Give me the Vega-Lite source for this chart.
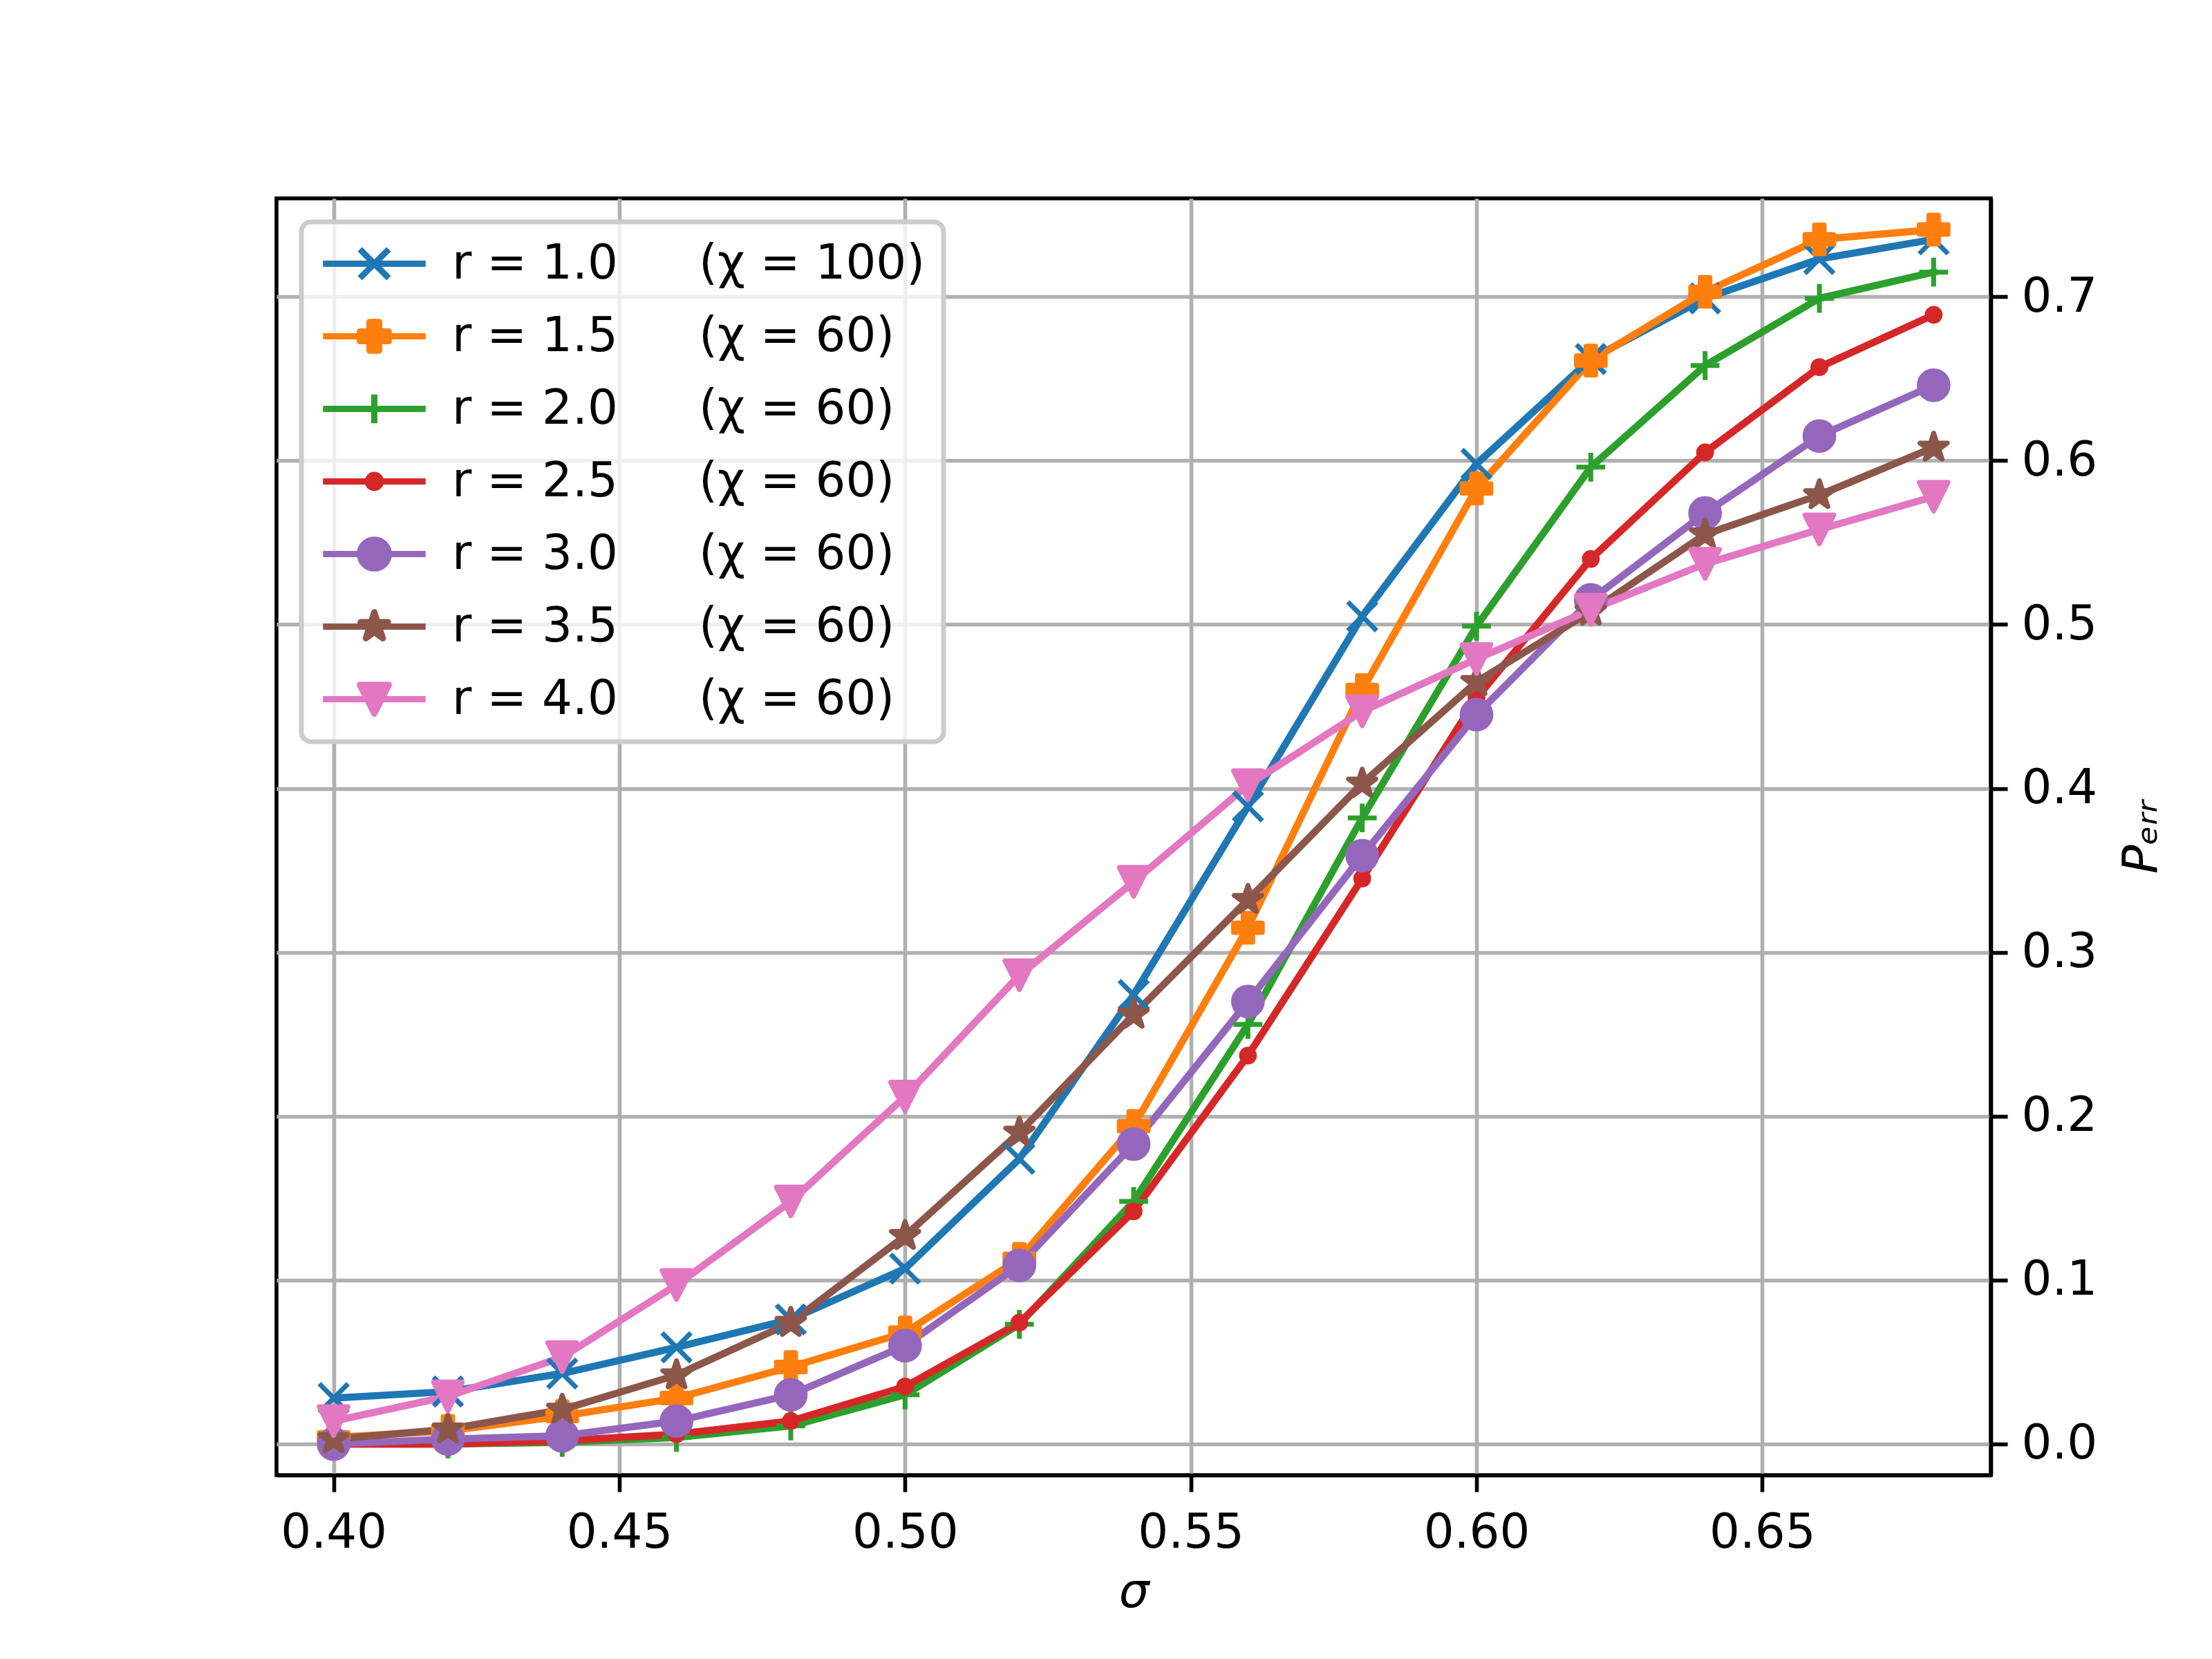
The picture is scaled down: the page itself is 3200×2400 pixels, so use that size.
{
  "$schema": "https://vega.github.io/schema/vega-lite/v6.json",
  "description": "Error probability versus sigma for several r values.",
  "width": 2480,
  "height": 1847,
  "autosize": {"type": "none"},
  "padding": {"left": 400, "top": 287, "right": 320, "bottom": 266},
  "background": "white",
  "config": {
    "view": {"stroke": "black", "strokeWidth": 5.6, "fill": "white"},
    "font": "DejaVu Sans",
    "axis": {
      "labelFont": "DejaVu Sans",
      "labelFontSize": 69,
      "labelColor": "black",
      "tickColor": "black",
      "tickWidth": 5.6,
      "tickSize": 24,
      "domainColor": "black",
      "domainWidth": 5.6,
      "gridColor": "#b0b0b0",
      "gridWidth": 5.6,
      "gridOpacity": 1,
      "titleFont": "DejaVu Sans",
      "titleFontSize": 69,
      "titleFontWeight": "normal",
      "titleFontStyle": "italic",
      "titleColor": "black"
    }
  },
  "data": {
    "values": [
      {"sigma": 0.40, "perr": 0.028, "series": "r = 1.0\u2003\u2002\u2009(χ = 100)"},
      {"sigma": 0.42, "perr": 0.032, "series": "r = 1.0\u2003\u2002\u2009(χ = 100)"},
      {"sigma": 0.44, "perr": 0.043, "series": "r = 1.0\u2003\u2002\u2009(χ = 100)"},
      {"sigma": 0.46, "perr": 0.059, "series": "r = 1.0\u2003\u2002\u2009(χ = 100)"},
      {"sigma": 0.48, "perr": 0.076, "series": "r = 1.0\u2003\u2002\u2009(χ = 100)"},
      {"sigma": 0.50, "perr": 0.107, "series": "r = 1.0\u2003\u2002\u2009(χ = 100)"},
      {"sigma": 0.52, "perr": 0.174, "series": "r = 1.0\u2003\u2002\u2009(χ = 100)"},
      {"sigma": 0.54, "perr": 0.274, "series": "r = 1.0\u2003\u2002\u2009(χ = 100)"},
      {"sigma": 0.56, "perr": 0.389, "series": "r = 1.0\u2003\u2002\u2009(χ = 100)"},
      {"sigma": 0.58, "perr": 0.505, "series": "r = 1.0\u2003\u2002\u2009(χ = 100)"},
      {"sigma": 0.60, "perr": 0.598, "series": "r = 1.0\u2003\u2002\u2009(χ = 100)"},
      {"sigma": 0.62, "perr": 0.662, "series": "r = 1.0\u2003\u2002\u2009(χ = 100)"},
      {"sigma": 0.64, "perr": 0.699, "series": "r = 1.0\u2003\u2002\u2009(χ = 100)"},
      {"sigma": 0.66, "perr": 0.723, "series": "r = 1.0\u2003\u2002\u2009(χ = 100)"},
      {"sigma": 0.68, "perr": 0.735, "series": "r = 1.0\u2003\u2002\u2009(χ = 100)"},
      {"sigma": 0.40, "perr": 0.004, "series": "r = 1.5\u2003\u2002\u2009(χ = 60)"},
      {"sigma": 0.42, "perr": 0.008, "series": "r = 1.5\u2003\u2002\u2009(χ = 60)"},
      {"sigma": 0.44, "perr": 0.017, "series": "r = 1.5\u2003\u2002\u2009(χ = 60)"},
      {"sigma": 0.46, "perr": 0.028, "series": "r = 1.5\u2003\u2002\u2009(χ = 60)"},
      {"sigma": 0.48, "perr": 0.047, "series": "r = 1.5\u2003\u2002\u2009(χ = 60)"},
      {"sigma": 0.50, "perr": 0.068, "series": "r = 1.5\u2003\u2002\u2009(χ = 60)"},
      {"sigma": 0.52, "perr": 0.113, "series": "r = 1.5\u2003\u2002\u2009(χ = 60)"},
      {"sigma": 0.54, "perr": 0.194, "series": "r = 1.5\u2003\u2002\u2009(χ = 60)"},
      {"sigma": 0.56, "perr": 0.315, "series": "r = 1.5\u2003\u2002\u2009(χ = 60)"},
      {"sigma": 0.58, "perr": 0.460, "series": "r = 1.5\u2003\u2002\u2009(χ = 60)"},
      {"sigma": 0.60, "perr": 0.583, "series": "r = 1.5\u2003\u2002\u2009(χ = 60)"},
      {"sigma": 0.62, "perr": 0.661, "series": "r = 1.5\u2003\u2002\u2009(χ = 60)"},
      {"sigma": 0.64, "perr": 0.703, "series": "r = 1.5\u2003\u2002\u2009(χ = 60)"},
      {"sigma": 0.66, "perr": 0.735, "series": "r = 1.5\u2003\u2002\u2009(χ = 60)"},
      {"sigma": 0.68, "perr": 0.741, "series": "r = 1.5\u2003\u2002\u2009(χ = 60)"},
      {"sigma": 0.40, "perr": 0.000, "series": "r = 2.0\u2003\u2002\u2009(χ = 60)"},
      {"sigma": 0.42, "perr": 0.000, "series": "r = 2.0\u2003\u2002\u2009(χ = 60)"},
      {"sigma": 0.44, "perr": 0.001, "series": "r = 2.0\u2003\u2002\u2009(χ = 60)"},
      {"sigma": 0.46, "perr": 0.004, "series": "r = 2.0\u2003\u2002\u2009(χ = 60)"},
      {"sigma": 0.48, "perr": 0.011, "series": "r = 2.0\u2003\u2002\u2009(χ = 60)"},
      {"sigma": 0.50, "perr": 0.030, "series": "r = 2.0\u2003\u2002\u2009(χ = 60)"},
      {"sigma": 0.52, "perr": 0.073, "series": "r = 2.0\u2003\u2002\u2009(χ = 60)"},
      {"sigma": 0.54, "perr": 0.148, "series": "r = 2.0\u2003\u2002\u2009(χ = 60)"},
      {"sigma": 0.56, "perr": 0.256, "series": "r = 2.0\u2003\u2002\u2009(χ = 60)"},
      {"sigma": 0.58, "perr": 0.382, "series": "r = 2.0\u2003\u2002\u2009(χ = 60)"},
      {"sigma": 0.60, "perr": 0.499, "series": "r = 2.0\u2003\u2002\u2009(χ = 60)"},
      {"sigma": 0.62, "perr": 0.596, "series": "r = 2.0\u2003\u2002\u2009(χ = 60)"},
      {"sigma": 0.64, "perr": 0.658, "series": "r = 2.0\u2003\u2002\u2009(χ = 60)"},
      {"sigma": 0.66, "perr": 0.699, "series": "r = 2.0\u2003\u2002\u2009(χ = 60)"},
      {"sigma": 0.68, "perr": 0.715, "series": "r = 2.0\u2003\u2002\u2009(χ = 60)"},
      {"sigma": 0.40, "perr": 0.000, "series": "r = 2.5\u2003\u2002\u2009(χ = 60)"},
      {"sigma": 0.42, "perr": 0.000, "series": "r = 2.5\u2003\u2002\u2009(χ = 60)"},
      {"sigma": 0.44, "perr": 0.002, "series": "r = 2.5\u2003\u2002\u2009(χ = 60)"},
      {"sigma": 0.46, "perr": 0.006, "series": "r = 2.5\u2003\u2002\u2009(χ = 60)"},
      {"sigma": 0.48, "perr": 0.014, "series": "r = 2.5\u2003\u2002\u2009(χ = 60)"},
      {"sigma": 0.50, "perr": 0.035, "series": "r = 2.5\u2003\u2002\u2009(χ = 60)"},
      {"sigma": 0.52, "perr": 0.074, "series": "r = 2.5\u2003\u2002\u2009(χ = 60)"},
      {"sigma": 0.54, "perr": 0.142, "series": "r = 2.5\u2003\u2002\u2009(χ = 60)"},
      {"sigma": 0.56, "perr": 0.237, "series": "r = 2.5\u2003\u2002\u2009(χ = 60)"},
      {"sigma": 0.58, "perr": 0.345, "series": "r = 2.5\u2003\u2002\u2009(χ = 60)"},
      {"sigma": 0.60, "perr": 0.455, "series": "r = 2.5\u2003\u2002\u2009(χ = 60)"},
      {"sigma": 0.62, "perr": 0.540, "series": "r = 2.5\u2003\u2002\u2009(χ = 60)"},
      {"sigma": 0.64, "perr": 0.605, "series": "r = 2.5\u2003\u2002\u2009(χ = 60)"},
      {"sigma": 0.66, "perr": 0.657, "series": "r = 2.5\u2003\u2002\u2009(χ = 60)"},
      {"sigma": 0.68, "perr": 0.689, "series": "r = 2.5\u2003\u2002\u2009(χ = 60)"},
      {"sigma": 0.40, "perr": 0.000, "series": "r = 3.0\u2003\u2002\u2009(χ = 60)"},
      {"sigma": 0.42, "perr": 0.003, "series": "r = 3.0\u2003\u2002\u2009(χ = 60)"},
      {"sigma": 0.44, "perr": 0.005, "series": "r = 3.0\u2003\u2002\u2009(χ = 60)"},
      {"sigma": 0.46, "perr": 0.014, "series": "r = 3.0\u2003\u2002\u2009(χ = 60)"},
      {"sigma": 0.48, "perr": 0.030, "series": "r = 3.0\u2003\u2002\u2009(χ = 60)"},
      {"sigma": 0.50, "perr": 0.060, "series": "r = 3.0\u2003\u2002\u2009(χ = 60)"},
      {"sigma": 0.52, "perr": 0.109, "series": "r = 3.0\u2003\u2002\u2009(χ = 60)"},
      {"sigma": 0.54, "perr": 0.183, "series": "r = 3.0\u2003\u2002\u2009(χ = 60)"},
      {"sigma": 0.56, "perr": 0.270, "series": "r = 3.0\u2003\u2002\u2009(χ = 60)"},
      {"sigma": 0.58, "perr": 0.359, "series": "r = 3.0\u2003\u2002\u2009(χ = 60)"},
      {"sigma": 0.60, "perr": 0.445, "series": "r = 3.0\u2003\u2002\u2009(χ = 60)"},
      {"sigma": 0.62, "perr": 0.515, "series": "r = 3.0\u2003\u2002\u2009(χ = 60)"},
      {"sigma": 0.64, "perr": 0.568, "series": "r = 3.0\u2003\u2002\u2009(χ = 60)"},
      {"sigma": 0.66, "perr": 0.615, "series": "r = 3.0\u2003\u2002\u2009(χ = 60)"},
      {"sigma": 0.68, "perr": 0.646, "series": "r = 3.0\u2003\u2002\u2009(χ = 60)"},
      {"sigma": 0.40, "perr": 0.003, "series": "r = 3.5\u2003\u2002\u2009(χ = 60)"},
      {"sigma": 0.42, "perr": 0.009, "series": "r = 3.5\u2003\u2002\u2009(χ = 60)"},
      {"sigma": 0.44, "perr": 0.021, "series": "r = 3.5\u2003\u2002\u2009(χ = 60)"},
      {"sigma": 0.46, "perr": 0.042, "series": "r = 3.5\u2003\u2002\u2009(χ = 60)"},
      {"sigma": 0.48, "perr": 0.074, "series": "r = 3.5\u2003\u2002\u2009(χ = 60)"},
      {"sigma": 0.50, "perr": 0.127, "series": "r = 3.5\u2003\u2002\u2009(χ = 60)"},
      {"sigma": 0.52, "perr": 0.190, "series": "r = 3.5\u2003\u2002\u2009(χ = 60)"},
      {"sigma": 0.54, "perr": 0.262, "series": "r = 3.5\u2003\u2002\u2009(χ = 60)"},
      {"sigma": 0.56, "perr": 0.332, "series": "r = 3.5\u2003\u2002\u2009(χ = 60)"},
      {"sigma": 0.58, "perr": 0.403, "series": "r = 3.5\u2003\u2002\u2009(χ = 60)"},
      {"sigma": 0.60, "perr": 0.465, "series": "r = 3.5\u2003\u2002\u2009(χ = 60)"},
      {"sigma": 0.62, "perr": 0.508, "series": "r = 3.5\u2003\u2002\u2009(χ = 60)"},
      {"sigma": 0.64, "perr": 0.555, "series": "r = 3.5\u2003\u2002\u2009(χ = 60)"},
      {"sigma": 0.66, "perr": 0.579, "series": "r = 3.5\u2003\u2002\u2009(χ = 60)"},
      {"sigma": 0.68, "perr": 0.608, "series": "r = 3.5\u2003\u2002\u2009(χ = 60)"},
      {"sigma": 0.40, "perr": 0.014, "series": "r = 4.0\u2003\u2002\u2009(χ = 60)"},
      {"sigma": 0.42, "perr": 0.029, "series": "r = 4.0\u2003\u2002\u2009(χ = 60)"},
      {"sigma": 0.44, "perr": 0.053, "series": "r = 4.0\u2003\u2002\u2009(χ = 60)"},
      {"sigma": 0.46, "perr": 0.097, "series": "r = 4.0\u2003\u2002\u2009(χ = 60)"},
      {"sigma": 0.48, "perr": 0.148, "series": "r = 4.0\u2003\u2002\u2009(χ = 60)"},
      {"sigma": 0.50, "perr": 0.212, "series": "r = 4.0\u2003\u2002\u2009(χ = 60)"},
      {"sigma": 0.52, "perr": 0.286, "series": "r = 4.0\u2003\u2002\u2009(χ = 60)"},
      {"sigma": 0.54, "perr": 0.343, "series": "r = 4.0\u2003\u2002\u2009(χ = 60)"},
      {"sigma": 0.56, "perr": 0.402, "series": "r = 4.0\u2003\u2002\u2009(χ = 60)"},
      {"sigma": 0.58, "perr": 0.447, "series": "r = 4.0\u2003\u2002\u2009(χ = 60)"},
      {"sigma": 0.60, "perr": 0.479, "series": "r = 4.0\u2003\u2002\u2009(χ = 60)"},
      {"sigma": 0.62, "perr": 0.509, "series": "r = 4.0\u2003\u2002\u2009(χ = 60)"},
      {"sigma": 0.64, "perr": 0.537, "series": "r = 4.0\u2003\u2002\u2009(χ = 60)"},
      {"sigma": 0.66, "perr": 0.558, "series": "r = 4.0\u2003\u2002\u2009(χ = 60)"},
      {"sigma": 0.68, "perr": 0.578, "series": "r = 4.0\u2003\u2002\u2009(χ = 60)"}
    ]
  },
  "encoding": {
    "x": {
      "field": "sigma",
      "type": "quantitative",
      "title": "σ",
      "scale": {"domain": [0.39, 0.69], "nice": false, "zero": false},
      "axis": {
        "values": [0.40, 0.45, 0.50, 0.55, 0.60, 0.65],
        "format": ".2f",
        "labelPadding": 25,
        "titlePadding": 17
      }
    },
    "y": {
      "field": "perr",
      "type": "quantitative",
      "title": "Pₑᵣᵣ",
      "scale": {"domain": [-0.019, 0.76], "nice": false, "zero": false},
      "axis": {
        "orient": "right",
        "values": [0, 0.1, 0.2, 0.3, 0.4, 0.5, 0.6, 0.7],
        "format": ".1f",
        "labelPadding": 20,
        "titleAngle": 270,
        "titlePadding": 100
      }
    },
    "color": {
      "field": "series",
      "type": "nominal",
      "scale": {"range": ["#1f77b4", "#ff7f0e", "#2ca02c", "#d62728", "#9467bd", "#8c564b", "#e377c2"]},
      "legend": {
        "title": null,
        "orient": "none",
        "legendX": 36,
        "legendY": 34,
        "padding": 26,
        "fillColor": "rgba(255,255,255,0.8)",
        "strokeColor": "#cccccc",
        "cornerRadius": 14,
        "labelFont": "DejaVu Sans",
        "labelFontSize": 69,
        "labelColor": "black",
        "labelLimit": 2000,
        "symbolSize": 1740,
        "symbolStrokeWidth": 9,
        "symbolOffset": 45,
        "labelOffset": 78,
        "rowPadding": 35,
        "encode": {
          "legend": {
            "update": {
              "strokeWidth": {"value": 7}
            }
          },
          "symbols": {
            "update": {
              "shape": {"signal": "scale('shape', datum.value) + 'M-3.56,0L3.56,0'"},
              "fill": {"scale": "color", "field": "value"},
              "stroke": {"scale": "color", "field": "value"},
              "strokeWidth": {"value": 9},
              "strokeJoin": {"value": "round"},
              "opacity": {"value": 1},
              "size": {"value": 1740}
            }
          }
        }
      }
    }
  },
  "layer": [
    {
      "mark": {"type": "line", "strokeWidth": 10.4, "strokeJoin": "round", "strokeCap": "square"}
    },
    {
      "mark": {"type": "point", "filled": true, "opacity": 1, "size": 1740, "strokeWidth": 7, "strokeJoin": "round"},
      "encoding": {
        "shape": {
          "field": "series",
          "type": "nominal",
          "scale": {
            "range": [
              "M-1,-1L1,1M-1,1L1,-1",
              "M-0.333,-1L-0.333,-0.333L-1,-0.333L-1,0.333L-0.333,0.333L-0.333,1L0.333,1L0.333,0.333L1,0.333L1,-0.333L0.333,-0.333L0.333,-1Z",
              "M-1,0L1,0M0,-1L0,1",
              "M-0.45,0A0.45,0.45,0,1,0,0.45,0A0.45,0.45,0,1,0,-0.45,0Z",
              "M-1,0A1,1,0,1,0,1,0A1,1,0,1,0,-1,0Z",
              "M0,-1L0.2245,-0.309L0.9511,-0.309L0.3633,0.118L0.5878,0.809L0,0.382L-0.5878,0.809L-0.3633,0.118L-0.9511,-0.309L-0.2245,-0.309Z",
              "M-1,-1L1,-1L0,1Z"
            ]
          }
        },
        "stroke": {
          "field": "series",
          "type": "nominal",
          "scale": {"range": ["#1f77b4", "#ff7f0e", "#2ca02c", "#d62728", "#9467bd", "#8c564b", "#e377c2"]},
          "legend": null
        }
      }
    }
  ]
}
